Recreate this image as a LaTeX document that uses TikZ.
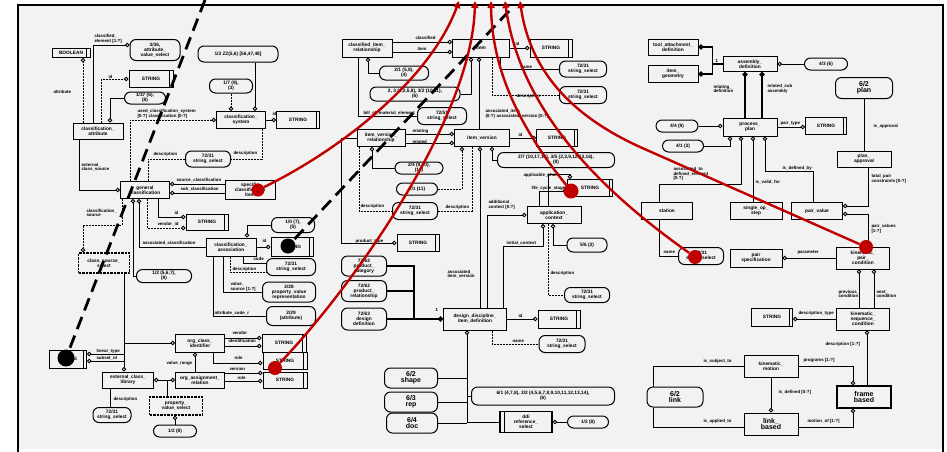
\documentclass[tikz,border=0pt]{standalone}
\usepackage{fontspec}
\setmainfont{Liberation Sans}
\usetikzlibrary{arrows.meta}
\definecolor{bgc}{HTML}{F2F2F2}
\definecolor{hired}{HTML}{C00000}
\newcommand\dgfont{\fontsize{4.4}{4.6}\selectfont\bfseries}
\newcommand\bxfont{\fontsize{4.8}{5}\selectfont\bfseries}
\newcommand\blobfont{\fontsize{7}{6}\selectfont\bfseries}
\tikzset{
  wh/.style 2 args={minimum width=#1pt, minimum height=#2pt},
  box/.style={draw, line width=1pt, inner sep=0.3pt, align=center, font=\bxfont},
  ent/.style={box},
  simp/.style={box, path picture={\draw[line width=0.8pt]
      ([xshift=-3.5pt]path picture bounding box.north east) --
      ([xshift=-3.5pt]path picture bounding box.south east);}},
  simpL/.style={box, line width=1.4pt, path picture={\draw[line width=1pt]
      ([xshift=4pt]path picture bounding box.north west) --
      ([xshift=4pt]path picture bounding box.south west);}},
  sel/.style={box, rounded corners=6pt},
  dtyp/.style={box, line width=1.4pt, dash pattern=on 2.5pt off 1pt},
  ln/.style={line width=0.9pt},
  lnd/.style={ln, dash pattern=on 2pt off 1pt},
  rel/.style={ln, -{Circle[length=4.4pt, fill=bgc]}},
  reld/.style={rel, dash pattern=on 2pt off 1pt},
  rels/.style={ln, {Circle[length=4.4pt, fill=bgc]}-{Circle[length=4.4pt, fill=bgc]}},
  thk/.style={line width=1.9pt},
  thkrel/.style={thk, -{Circle[length=5pt, fill=bgc]}},
  lab/.style={font=\dgfont, inner sep=0.3pt, anchor=west, align=left},
  reddot/.style={circle, fill=hired, minimum size=14pt, inner sep=0pt},
  blackdot/.style={circle, fill=black, minimum size=16pt, inner sep=0pt},
  redarr/.style={hired, line width=2.4pt, -{Triangle[length=7pt, width=7pt]}},
  hint/.style={black, line width=2.8pt, dash pattern=on 13pt off 7pt}
}
\begin{document}
\begin{tikzpicture}[x=1pt, y=-1pt]
    % 1. 画布与外框
    \useasboundingbox (0,0) rectangle (947,451);
    \fill[white] (0,0) rectangle (947,451);
    \fill[bgc] (18,5) rectangle (943,449);
    \draw[line width=2pt] (18,452) -- (18,5) -- (943,5) -- (943,452);

    % 2. 左侧：分类部分
    \node[simp, wh={38}{9}] (boolT) at (71,53) {BOOLEAN};
    \node[sel, wh={50}{21}] (attSel) at (155,50) {3/36,\\attribute\_\\value\_select};
    \node[simp, wh={44}{17}] (attId) at (151,79) {STRING};
    \node[sel, wh={41}{12}] (attNote) at (145,98) {1/37 (6),\\(8)};
    \node[ent, wh={50}{16}] (clsAttr) at (98,131) {classification\_\\attribute};
    \node[sel, wh={80}{16}] (sysNote) at (238,54) {1/2 ZZ(5,6) [56,47,48]};
    \node[sel, wh={43}{14}] (sysSel) at (231,86) {1/7 (9),\\(3)};
    \node[ent, wh={49}{17}] (clsSys) at (241,120) {classification\_\\system};
    \node[simp, wh={43}{17}] (sysId) at (298,120) {STRING};
    \node[sel, wh={45}{16}] (descA) at (208,159) {72/31\\string\_select};
    \node[ent, wh={49}{17}] (genCls) at (145,190) {general\\classification};
    \node[ent, wh={50}{19}] (clsTgt) at (250,190) {specific\\classification\\item};
    \node[simp, wh={42}{16}] (venStr) at (207,222) {STRING};
    \node[sel, wh={43}{15}] (assNote) at (293,225) {1/0 (7),\\(5)};
    \node[ent, wh={50}{18}] (clsAssoc) at (231,247) {classification\_\\association};
    \node[simp, wh={42}{19}] (assRef) at (292,247) {STRING};
    \node[sel, wh={49}{17}] (descB) at (291,267) {72/31\\string\_select};
    \node[sel, wh={53}{20}] (valSel) at (289,292) {2/28\\property\_value\\representation};
    \node[sel, wh={49}{19}] (codeSel) at (291,316) {2/29\\(attribute)};
    \node[dtyp, wh={51}{20}] (srcType) at (104,263) {class\_source\_\\select};
    \node[sel, wh={55}{13}] (srcNote) at (164,276) {1/2 (5,6,7),\\(9)};
    \node[simp, wh={37}{18}] (blkRef) at (68,359) {STRING};
    \node[ent, wh={49}{18}] (orgCls) at (200,343) {org\_class\_\\identifier};
    \node[simp, wh={44}{18}] (vendStr) at (284,343) {STRING};
    \node[simp, wh={44}{17}] (roleStr) at (285,361) {STRING};
    \node[simp, wh={44}{16}] (verStr) at (285,380) {STRING};
    \node[ent, wh={51}{16}] (extCls) at (128,380) {external\_class\_\\library};
    \node[ent, wh={49}{16}] (orgLink) at (200,380) {org\_assignment\_\\relation};
    \node[dtyp, wh={53}{18}] (propSel) at (176,406) {property\_\\value\_select};
    \node[sel, wh={38}{15}] (descC) at (112,415) {72/31\\string\_select};
    \node[sel, wh={43}{12}] (idxNote) at (175,431) {1/2 (8)};

    % 3. 中间：item 部分
    \node[ent, wh={50}{18}] (clsItem) at (367,48) {classified\_item\_\\relationship};
    \node[ent, wh={57}{18}] (item) at (481,48) {item};
    \node[simp, wh={42}{18}] (itemId) at (551,48) {STRING};
    \node[sel, wh={49}{14}] (itmNoteA) at (404,73) {2/1 (5,8),\\(4)};
    \node[sel, wh={90}{14}] (itmNoteB) at (415,94) {2, 3 (4,2,5,8), 3/2 (10,11),\\(6)};
    \node[sel, wh={47}{16}] (itmName) at (583,69) {72/31\\string\_select};
    \node[sel, wh={47}{17}] (itmDesc) at (583,95) {72/31\\string\_select};
    \node[sel, wh={49}{17}] (bomSel) at (442,116) {72/51\\string\_select};
    \node[ent, wh={48}{17}] (verRel) at (381,138) {item\_version\_\\relationship};
    \node[ent, wh={55}{17}] (itemVer) at (482,138) {item\_version};
    \node[simp, wh={41}{17}] (verId) at (557,138) {STRING};
    \node[sel, wh={117}{15}] (verNote) at (556,160) {2/7 (10,17,18), 3/5 (2,3,9,12,13,16),\\(8)};
    \node[sel, wh={48}{12}] (relNote) at (419,168) {2/4 (9,10),\\(11)};
    \node[sel, wh={41}{12}] (relSel) at (417,189) {2/1 (11)};
    \node[sel, wh={45}{17}] (relDesc) at (415,211) {72/31\\string\_select};
    \node[simp, wh={45}{17}] (stageStr) at (590,188) {STRING};
    \node[ent, wh={54}{17}] (appCtx) at (554,215) {application\_\\context};
    \node[simp, wh={42}{17}] (typeStr) at (418,243) {STRING};
    \node[sel, wh={45}{20}] (ctxA) at (364,266) {72/62\\product\_\\category};
    \node[sel, wh={45}{21}] (ctxB) at (364,291) {72/62\\product\_\\relationship};
    \node[sel, wh={45}{22}] (ctxC) at (364,319) {72/63\\design\\definition};
    \node[ent, wh={63}{22}] (ddItem) at (475,319) {design\_discipline\_\\item\_definition};
    \node[simp, wh={42}{18}] (ddId) at (559,319) {STRING};
    \node[sel, wh={46}{17}] (ddName) at (562,344) {72/31\\string\_select};
    \node[sel, wh={40}{14}] (ctxNote) at (587,245) {5/6 (3)};
    \node[sel, wh={45}{15}] (ctxDesc) at (587,295) {72/31\\string\_select};
    \node[sel, wh={53}{20}, font=\blobfont] (docA) at (411,378) {6/2\\shape};
    \node[sel, wh={53}{20}, font=\blobfont] (docB) at (411,402) {6/3\\rep};
    \node[sel, wh={51}{20}, font=\blobfont] (docC) at (412,423) {6/4\\doc};
    \node[sel, wh={143}{18}] (docNote) at (543,396) {6/1 (4,7,8), 3/2 (4,5,6,7,8,9,10,11,12,13,14),\\(6)};
    \node[simpL, wh={52}{21}] (docRef) at (526,422) {ddi\\reference\_\\select};
    \node[sel, wh={41}{12}] (docIdx) at (588,422) {1/2 (8)};

    % 4. 右侧：plan / kinematic 部分
    \node[ent, wh={50}{16}] (toolA) at (673,47) {tool\_attachment\_\\definition};
    \node[ent, wh={50}{17}] (toolB) at (673,74) {item\_\\geometry};
    \node[ent, wh={54}{15}] (assy) at (750,64) {assembly\_\\definition};
    \node[sel, wh={43}{12}] (assyNote) at (826,64) {4/3 (6)};
    \node[sel, wh={57}{21}, font=\blobfont] (prgSel) at (864,88) {6/2\\plan};
    \node[ent, wh={54}{18}] (plan) at (750,127) {process\_\\plan};
    \node[sel, wh={42}{12}] (planNA) at (677,126) {4/4 (9)};
    \node[sel, wh={41}{12}] (planNB) at (683,146) {4/1 (3)};
    \node[simp, wh={41}{17}] (planStr) at (826,126) {STRING};
    \node[ent, wh={54}{16}] (appr) at (864,159) {plan\_\\approval};
    \node[ent, wh={51}{17}] (station) at (667,211) {station};
    \node[ent, wh={52}{17}] (opSeq) at (756,211) {single\_op\_\\step};
    \node[ent, wh={51}{17}] (pairV) at (817,211) {pair\_value};
    \node[sel, wh={45}{17}] (stName) at (701,256) {72/31\\string\_select};
    \node[ent, wh={52}{18}] (pairSpec) at (756,258) {pair\\specification};
    \node[ent, wh={53}{22}] (tiedPair) at (863,258) {kinematic\_\\pair\_\\condition};
    \node[simp, wh={41}{18}] (condStr) at (772,317) {STRING};
    \node[ent, wh={53}{22}] (seqCond) at (863,319) {kinematic\_\\sequence\_\\condition};
    \node[ent, wh={54}{22}] (motion) at (771,366) {kinematic\_\\motion};
    \node[ent, wh={54}{22}, line width=1.5pt, font=\blobfont] (motRef) at (864,397) {frame\\based};
    \node[sel, wh={56}{20}, font=\blobfont] (motSel) at (675,397) {6/2\\link};
    \node[ent, wh={54}{22}, font=\blobfont] (motLink) at (771,424) {link\_\\based};

    % 5. 左侧连线
    \draw[reld] ([xshift=-15pt]clsAttr.north) -- ([xshift=-15pt]clsAttr.north |- boolT.south);
    \draw[rel] ([xshift=-5pt]clsAttr.north) |- ([yshift=5pt]attSel.west);
    \draw[reld] ([xshift=3pt]clsAttr.north) |- (attId.west);
    \draw[rel] (attNote.west) -| ([xshift=12pt]clsAttr.north);
    \draw[rel] ([xshift=-19pt]clsAttr.south) |- (genCls.west);
    \draw[reld] (sysSel.south) -- (sysSel.south |- clsSys.north);
    \draw[rel] ([xshift=17pt]sysNote.south) -- ([xshift=17pt]sysNote.south |- clsSys.north);
    \draw[rel] (clsSys.east) -- (sysId.west);
    \draw[reld] ([xshift=-15pt]genCls.north) |- (clsSys.west);
    \draw[lnd] ([xshift=21pt]clsSys.south) |- (descA.east);
    \draw[lnd] ([xshift=3pt]genCls.north) |- (descA.west);
    \draw[rel] ([yshift=6pt]clsTgt.west) -- ([yshift=6pt]clsTgt.west -| genCls.east);
    \draw[rel] ([yshift=-3pt]clsTgt.west) -- ([yshift=-3pt]clsTgt.west -| genCls.east);
    \draw[rel] ([xshift=13pt]genCls.south) |- ([yshift=5pt]venStr.west);
    \draw[reld] ([xshift=2pt]genCls.south) |- ([yshift=-6pt]venStr.west);
    \draw[rel] (clsAssoc.west) -| ([xshift=-6pt]genCls.south);
    \draw[rel] (srcNote.west) -| ([xshift=-12pt]genCls.south);
    \draw[reld] ([xshift=-23pt]genCls.south) -- ++(0,26) -| ([xshift=-21pt]srcType.north);
    \draw[rel] (assNote.west) -| ([xshift=16pt]clsAssoc.north);
    \draw[rel] (clsAssoc.east) -- (assRef.west);
    \draw[ln] ([xshift=12pt]clsAssoc.south) |- ([yshift=4pt]descB.west);
    \draw[lnd] ([xshift=-1pt]clsAssoc.south) |- ([yshift=-5pt]descB.west);
    \draw[ln] ([xshift=-8pt]clsAssoc.south) |- (valSel.west);
    \draw[ln] ([xshift=-18pt]clsAssoc.south) |- (codeSel.west);
    \draw[rel] ([xshift=20pt]srcType.south) -- ([xshift=20pt]srcType.south |- extCls.north);
    \draw[rel] ([xshift=20pt]srcType.south |- orgCls.west) -- (orgCls.west);
    \draw[rel] ([yshift=5pt]orgCls.east) -- ([yshift=5pt]orgCls.east -| vendStr.west);
    \draw[rel] ([yshift=-3pt]orgCls.east) -- ([yshift=-3pt]orgCls.east -| vendStr.west);
    \draw[rel] ([xshift=37pt,yshift=5pt]blkRef.east) -- ([yshift=5pt]blkRef.east);
    \draw[rel] ([xshift=37pt,yshift=-2pt]blkRef.east) -- ([yshift=-2pt]blkRef.east);
    \draw[rel] ([xshift=-5pt]orgLink.north) -- ([xshift=-5pt]orgLink.north |- orgCls.south);
    \draw[rel] ([xshift=13pt]orgCls.south) |- ([yshift=-2pt]roleStr.west);
    \draw[rel] ([yshift=7pt]orgLink.east) -- ([yshift=7pt]orgLink.east -| verStr.west);
    \draw[rel] ([yshift=-1pt]orgLink.east) -- ([yshift=-1pt]orgLink.east -| verStr.west);
    \draw[rels] (extCls.east) -- (orgLink.west);
    \draw[ln] ([xshift=-9pt]propSel.north |- orgLink.west) -- ([xshift=-9pt]propSel.north);
    \draw[ln] ([xshift=-18pt]extCls.south) -- ([xshift=-18pt]extCls.south |- descC.north);
    \draw[rel] (idxNote.north) -- (idxNote.north |- propSel.south);

    % 6. 中间连线
    \draw[rel] ([yshift=6pt]clsItem.east) -- ([yshift=6pt]clsItem.east -| item.west);
    \draw[rel] ([yshift=-4pt]clsItem.east) -- ([yshift=-4pt]clsItem.east -| item.west);
    \draw[rel] (itmNoteA.west) -| ([xshift=1pt]clsItem.south);
    \draw[ln] ([xshift=-9pt]clsItem.south) |- (bomSel.west);
    \draw[rel] (itmNoteB.east) -| ([xshift=-10pt]item.south);
    \draw[rel] ([xshift=-3pt]itemVer.north) -- ([xshift=-3pt]itemVer.north |- item.south);
    \draw[ln] ([xshift=19pt]item.south) |- (itmName.west);
    \draw[lnd] ([xshift=11pt]item.south) |- (itmDesc.west);
    \draw[rel] (item.east) -- (itemId.west);
    \draw[rel] ([yshift=4pt]verRel.east) -- ([yshift=4pt]verRel.east -| itemVer.west);
    \draw[rel] ([yshift=-5pt]verRel.east) -- ([yshift=-5pt]verRel.east -| itemVer.west);
    \draw[rel] (relNote.west) -| ([xshift=-9pt]verRel.south);
    \draw[lnd] ([xshift=-22pt]verRel.south) |- (relDesc.west);
    \draw[reld] (relSel.east) -| ([xshift=-20pt]itemVer.south);
    \draw[lnd] ([xshift=-10pt]itemVer.south) |- (relDesc.east);
    \draw[rel] (verNote.west) -| ([xshift=10pt]itemVer.south);
    \draw[rel] (itemVer.east) -- (verId.west);
    \draw[rel] (verRel.west) -- ++(-15,0) |- (typeStr.west);
    \coordinate (ctxJ) at ([xshift=-29pt]ddItem.west);
    \draw[thk] (ctxA.east) -| (ctxJ);
    \draw[thk] (ctxB.east) -- (ctxB.east -| ctxJ);
    \draw[thk] (ctxC.east) -- (ctxC.east -| ctxJ);
    \draw[thkrel] (ctxJ) -- (ddItem.west);
    \draw[rel] ([xshift=5pt]ddItem.north) -- ([xshift=5pt]ddItem.north |- itemVer.south);
    \draw[rel] ([xshift=12pt]ddItem.north) |- (appCtx.west);
    \draw[rel] ([xshift=28pt]ddItem.north) -- ++(0,-61) -| ([xshift=-11pt]appCtx.south);
    \draw[rel] (ctxNote.west) -| ([xshift=-1pt]appCtx.south);
    \draw[lnd] ([xshift=-6pt]appCtx.south) |- (ctxDesc.west);
    \draw[rel] ([xshift=-15pt]appCtx.north) |- ([yshift=-3pt]stageStr.west);
    \draw[rel] ([xshift=-6pt]appCtx.north) -- ++(0,-32) -| ([xshift=-20pt]stageStr.north);
    \draw[rel] (ddItem.east) -- (ddId.west);
    \draw[lnd] ([xshift=17pt]ddItem.south) |- (ddName.west);
    \coordinate (ddTr) at ([xshift=-8pt]ddItem.south);
    \draw[rel] (ddTr |- docRef.west) -- (ddTr);
    \draw[ln] (docA.east) -- (docA.east -| ddTr);
    \draw[ln] (docB.east) -- (docB.east -| ddTr);
    \draw[ln] (docC.east) -- (docC.east -| ddTr);
    \draw[ln] (ddTr |- docNote.west) -- (docNote.west);
    \draw[ln] (ddTr |- docRef.west) -- (docRef.west);
    \draw[rel] (docIdx.west) -- (docRef.east);

    % 7. 右侧连线
    \coordinate (toolJ) at ([xshift=-10pt]assy.west);
    \draw[thkrel] (toolJ) |- (toolA.east);
    \draw[thkrel] (toolJ) |- (toolB.east);
    \draw[thk] (toolJ) -- (assy.west);
    \draw[rel] (assyNote.west) -- (assy.east);
    \draw[thkrel] ([xshift=-5pt]plan.north) -- ([xshift=-5pt]plan.north |- assy.south);
    \draw[thkrel] ([xshift=12pt]plan.north) -- ([xshift=12pt]plan.north |- assy.south);
    \draw[rel] (planNA.east) -- (planNA.east -| plan.west);
    \draw[rel] (planNB.east) -| ([xshift=-20pt]plan.south);
    \draw[rel] (plan.east) -- (plan.east -| planStr.west);
    \draw[rel] ([xshift=-8pt]station.north) -- ++(0,-18) -| ([xshift=-9pt]plan.south);
    \draw[rel] ([xshift=-3pt]opSeq.north) -- ([xshift=-3pt]opSeq.north |- plan.south);
    \draw[rel] ([xshift=-4pt]pairV.north) -- ++(0,-31) -| ([xshift=15pt]plan.south);
    \draw[ln] (prgSel.south) -- (appr.north);
    \draw[rel] ([xshift=4pt]appr.south) |- ([yshift=5pt]pairV.east);
    \draw[rel] ([xshift=5pt]tiedPair.north) |- ([yshift=-3pt]pairV.east);
    \draw[ln] ([xshift=-8pt]station.south) |- (stName.west);
    \draw[rel] (tiedPair.west) -- (tiedPair.west -| pairSpec.east);
    \draw[rel] ([xshift=-4pt]seqCond.north) -- ([xshift=-4pt]seqCond.north |- tiedPair.south);
    \draw[rel] ([xshift=11pt]seqCond.north) -- ([xshift=11pt]seqCond.north |- tiedPair.south);
    \draw[rel] (seqCond.west) -- (seqCond.west -| condStr.east);
    \draw[rel] ([xshift=3pt]motRef.north) -- ([xshift=3pt]motRef.north |- seqCond.south);
    \draw[rel] (motion.east) -| ([xshift=-11pt]motRef.north);
    \draw[ln] (motion.west) -| ([xshift=-22pt]motSel.north);
    \draw[rel] (motion.south) -- (motLink.north);
    \draw[ln] ([xshift=-22pt]motSel.south) |- ([yshift=-3pt]motLink.west);
    \draw[rel] ([yshift=-3pt]motLink.east) -| ([xshift=-11pt]motRef.south);

    % 8. 连线标注
    \node[lab] (lb1) at (94,39) {classified\_\\element [1:?]};
    \node[lab] (lb2) at (108,77) {id};
    \node[lab] (lb3) at (53,92) {attribute};
    \node[lab] (lb4) at (81,167) {external\_\\class\_source};
    \node[lab] (lb5) at (137,114) {used\_classification\_system\\{}[0:?] classification [0:?]};
    \node[lab] (lb6) at (153,154) {description};
    \node[lab] (lb7) at (233,153) {description};
    \node[lab] (lb8) at (272,114) {id};
    \node[lab] (lb9) at (176,180) {source\_classification};
    \node[lab] (lb10) at (180,189) {sub\_classification};
    \node[lab] (lb11) at (86,213) {classification\_\\source};
    \node[lab] (lb12) at (174,213) {id};
    \node[lab] (lb13) at (157,224) {vendor\_id};
    \node[lab] (lb14) at (142,243) {associated\_classification};
    \node[lab] (lb15) at (262,241) {id};
    \node[lab] (lb16) at (253,259) {code};
    \node[lab] (lb17) at (232,269) {description};
    \node[lab] (lb18) at (230,287) {value\_\\source [1:?]};
    \node[lab] (lb19) at (214,313) {attribute\_code\_r};
    \node[lab] (lb20) at (96,351) {linear\_type};
    \node[lab] (lb21) at (96,358) {subset\_id};
    \node[lab] (lb22) at (232,333) {vendor};
    \node[lab] (lb23) at (228,341) {identification};
    \node[lab] (lb24) at (166,363) {value\_range};
    \node[lab] (lb25) at (234,358) {role};
    \node[lab] (lb26) at (229,369) {version};
    \node[lab] (lb27) at (237,378) {role};
    \node[lab] (lb28) at (113,399) {description};
    \node[lab] (lb29) at (415,38) {classified};
    \node[lab] (lb30) at (417,49) {item};
    \node[lab] (lb31) at (515,44) {id};
    \node[lab] (lb32) at (520,67) {name};
    \node[lab] (lb33) at (516,96) {description};
    \node[lab] (lb34) at (363,113) {bill\_of\_material\_element};
    \node[lab] (lb35) at (485,114) {associated\_item\\(0:?) associated\_version [0:?]};
    \node[lab] (lb36) at (412,131) {relating};
    \node[lab] (lb37) at (412,142) {related};
    \node[lab] (lb38) at (518,135) {id};
    \node[lab] (lb39) at (360,206) {description};
    \node[lab] (lb40) at (445,207) {description};
    \node[lab] (lb41) at (523,175) {applicable\_phase};
    \node[lab] (lb42) at (531,188) {life\_cycle\_stage};
    \node[lab] (lb43) at (488,205) {additional\_\\context [0:?]};
    \node[lab] (lb44) at (355,241) {product\_type};
    \node[lab] (lb45) at (447,274) {associated\_\\item\_version};
    \node[lab] (lb46) at (435,310) {1};
    \node[lab] (lb47) at (506,243) {initial\_context};
    \node[lab] (lb48) at (550,273) {description};
    \node[lab] (lb49) at (518,316) {id};
    \node[lab] (lb50) at (512,341) {name};
    \node[lab] (lb51) at (715,61) {1};
    \node[lab] (lb52) at (713,89) {relating\_\\definition};
    \node[lab] (lb53) at (767,89) {related\_sub\\assembly};
    \node[lab] (lb54) at (780,123) {pair\_type};
    \node[lab] (lb55) at (873,126) {is\_approval};
    \node[lab] (lb56) at (673,174) {associated\_to\\defined\_element\\{}[0:?]};
    \node[lab] (lb57) at (755,182) {is\_valid\_for};
    \node[lab] (lb58) at (782,168) {is\_defined\_by};
    \node[lab] (lb59) at (871,179) {total\_pair\\constraints [0:?]};
    \node[lab] (lb60) at (871,229) {pair\_values\\{}[1:?]};
    \node[lab] (lb61) at (663,252) {name};
    \node[lab] (lb62) at (797,253) {parameter};
    \node[lab] (lb63) at (838,294) {previous\_\\condition};
    \node[lab] (lb64) at (876,294) {next\_\\condition};
    \node[lab] (lb65) at (798,313) {description\_type};
    \node[lab] (lb66) at (825,344) {description [1:?]};
    \node[lab] (lb67) at (703,361) {is\_subject\_to};
    \node[lab] (lb68) at (803,360) {programs [1:?]};
    \node[lab] (lb69) at (778,392) {is\_defined [0:?]};
    \node[lab] (lb70) at (703,421) {is\_applied\_to};
    \node[lab] (lb71) at (807,421) {motion\_of [1:?]};

    % 9. 黑色虚线提示
    \node[blackdot, minimum size=17pt] (bdA) at (66,358) {};
    \node[blackdot, minimum size=15pt] (bdB) at (288,246) {};
    \coordinate (hA) at (205,0);
    \coordinate (hB) at (509,11);
    \draw[hint] (hA) -- (bdA);
    \draw[hint] (hB) -- (bdB);

    % 10. 红色箭头
    \node[reddot, minimum size=13pt] (rdA) at (258,190) {};
    \node[reddot] (rdB) at (275,368) {};
    \node[reddot, minimum size=15pt] (rdC) at (571,191) {};
    \node[reddot] (rdD) at (695,257) {};
    \node[reddot] (rdE) at (866,247) {};
    \coordinate (t1) at (459,1);
    \coordinate (t2) at (475,1);
    \coordinate (t3) at (491,1);
    \coordinate (t4) at (505,1);
    \coordinate (t5) at (520,1);
    \draw[redarr] (rdA) .. controls (340,150) and (430,80) .. (t1);
    \draw[redarr] (rdB) .. controls (350,290) and (472,120) .. (t2);
    \draw[redarr] (rdC) .. controls (530,140) and (492,80) .. (t3);
    \draw[redarr] (rdD) .. controls (600,190) and (520,110) .. (t4);
    \draw[redarr] (rdE) -- (640,147) .. controls (570,115) and (530,70) .. (t5);
\end{tikzpicture}
\end{document}
